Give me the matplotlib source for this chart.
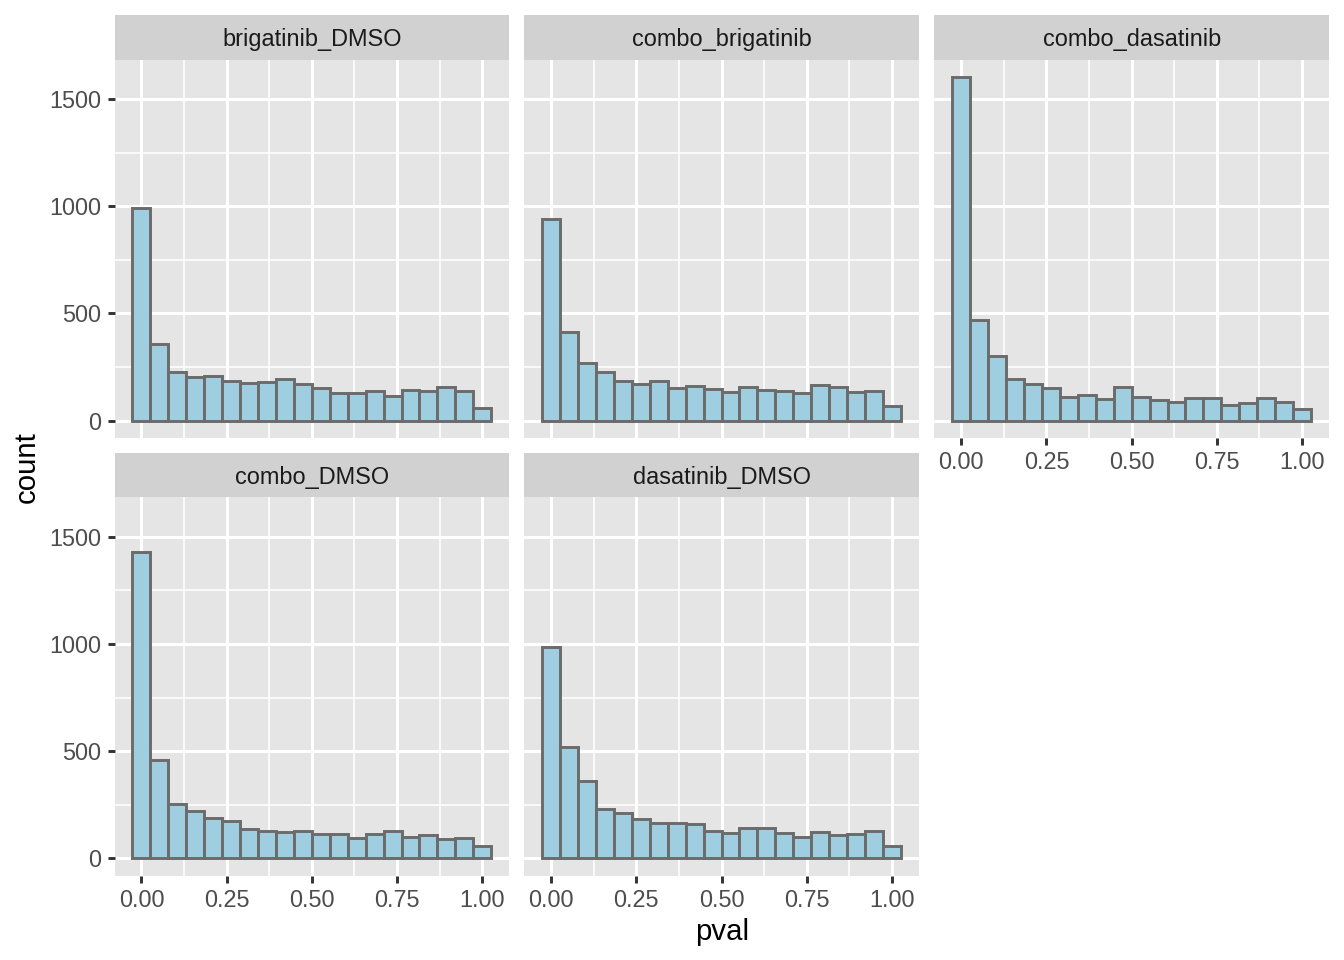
import numpy as np
import matplotlib
matplotlib.use("Agg")
from matplotlib import pyplot as plt

plt.rcParams['font.family'] = ['Liberation Sans', 'DejaVu Sans']

# 20 bins, centred on 0 .. 1
nbins = 20
centers = np.linspace(0, 1, nbins)
binw = 1 / (nbins - 1)

facets = ['brigatinib_DMSO', 'combo_brigatinib', 'combo_dasatinib', 'combo_DMSO', 'dasatinib_DMSO']
brigatinib_DMSO = [992, 355, 227, 203, 209, 183, 175, 178, 195, 172, 150, 128, 128, 139, 114, 144, 139, 156, 136, 58]
combo_brigatinib = [941, 411, 270, 228, 186, 172, 184, 153, 162, 147, 133, 155, 141, 136, 130, 164, 158, 134, 136, 67]
combo_dasatinib = [1605, 467, 303, 194, 172, 150, 108, 120, 100, 156, 108, 98, 86, 105, 103, 72, 83, 106, 86, 55]
combo_DMSO = [1429, 461, 256, 221, 188, 175, 138, 129, 123, 126, 115, 116, 95, 115, 127, 102, 110, 92, 96, 59]
dasatinib_DMSO = [985, 519, 363, 233, 210, 182, 166, 166, 160, 127, 120, 140, 144, 121, 99, 123, 109, 113, 130, 57]
counts = [brigatinib_DMSO, combo_brigatinib, combo_dasatinib, combo_DMSO, dasatinib_DMSO]

W, H = 1344, 960
fig = plt.figure(figsize=(7, 5), dpi=192)

def box(x0, y0, x1, y1):
    return [x0 / W, 1 - y1 / H, (x1 - x0) / W, (y1 - y0) / H]

cols = [(114.5, 509.2), (524.2, 918.9), (934.3, 1329)]
rows = [((15, 59.5), (59.5, 437.7)), ((452.7, 497), (497, 875.7))]

ymax = max(max(c) for c in counts)
ylo, yhi = -0.05 * ymax, 1.05 * ymax
xr = 1 + binw
xlo, xhi = -binw / 2 - 0.05 * xr, 1 + binw / 2 + 0.05 * xr

panel_bg = '#E5E5E5'
strip_bg = '#D1D1D1'

for i, name in enumerate(facets):
    r, c = divmod(i, 3)
    (sy0, sy1), (py0, py1) = rows[r]
    x0, x1 = cols[c]
    # strip
    sax = fig.add_axes(box(x0, sy0, x1, sy1))
    sax.set_facecolor(strip_bg)
    sax.set_xticks([]); sax.set_yticks([])
    for s in sax.spines.values():
        s.set_visible(False)
    sax.text(0.5, 0.44, name, ha='center', va='center', fontsize=8.8, color='#1A1A1A', transform=sax.transAxes)

    ax = fig.add_axes(box(x0, py0, x1, py1))
    ax.set_facecolor(panel_bg)
    for s in ax.spines.values():
        s.set_visible(False)
    ax.set_axisbelow(True)
    ax.set_xlim(xlo, xhi)
    ax.set_ylim(ylo, yhi)
    ax.set_xticks([0, 0.25, 0.5, 0.75, 1.0])
    ax.set_xticks([0.125, 0.375, 0.625, 0.875], minor=True)
    ax.set_yticks([0, 500, 1000, 1500])
    ax.set_yticks([250, 750, 1250], minor=True)
    ax.grid(True, which='major', color='white', linewidth=1.15)
    ax.grid(True, which='minor', color='white', linewidth=0.6)
    ax.bar(centers, counts[i], width=binw, color='#9FCEE0', edgecolor='#6B6B6B', linewidth=1.1)
    ax.tick_params(which='minor', length=0)
    ax.tick_params(which='major', length=2.75, width=1.1, color='#333333',
                   labelsize=8.8, labelcolor='#4D4D4D', pad=2.2)
    ax.set_xticklabels(['0.00', '0.25', '0.50', '0.75', '1.00'])
    if c != 0:
        ax.tick_params(axis='y', which='both', left=False, labelleft=False)
    # x axis only on bottom of each column
    if r == 0 and i + 3 < len(facets):
        ax.tick_params(axis='x', which='both', bottom=False, labelbottom=False)

fig.text(27 / W, 1 - 467 / H, 'count', rotation=90, ha='center', va='center', fontsize=11, color='black')
fig.text(721.7 / W, 1 - 932 / H, 'pval', ha='center', va='center', fontsize=11, color='black')

fig.savefig('out.png', dpi=192, facecolor='white')
